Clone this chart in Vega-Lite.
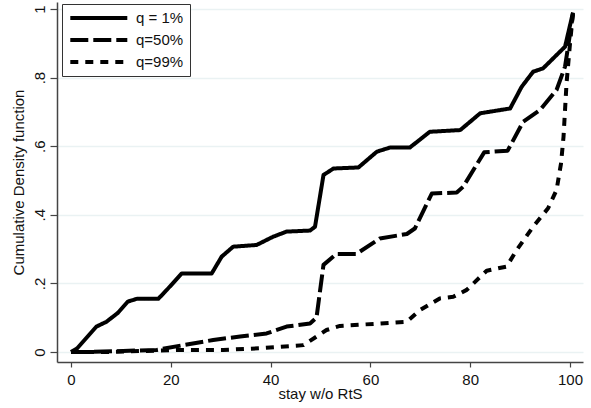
{
  "$schema": "https://vega.github.io/schema/vega-lite/v6.json",
  "width": 526,
  "height": 360,
  "autosize": "none",
  "padding": {"left": 57, "top": 2, "right": 8, "bottom": 46},
  "background": "white",
  "config": {
    "view": {"stroke": null},
    "font": "Liberation Sans",
    "axis": {"labelFont": "Liberation Sans", "titleFont": "Liberation Sans", "labelColor": "#111", "titleColor": "#111", "titleFontWeight": "normal", "labelFontSize": 15, "titleFontSize": 15, "domainColor": "#444", "tickColor": "#444", "domainWidth": 1.5, "tickWidth": 1.2}
  },
  "data": {"values": [
    {"x": 0, "y": 0, "q": "q = 1%"},
    {"x": 1.2, "y": 0.01, "q": "q = 1%"},
    {"x": 5.1, "y": 0.074, "q": "q = 1%"},
    {"x": 7.1, "y": 0.088, "q": "q = 1%"},
    {"x": 9.4, "y": 0.114, "q": "q = 1%"},
    {"x": 11.4, "y": 0.147, "q": "q = 1%"},
    {"x": 13.2, "y": 0.155, "q": "q = 1%"},
    {"x": 17.5, "y": 0.155, "q": "q = 1%"},
    {"x": 19.2, "y": 0.181, "q": "q = 1%"},
    {"x": 22.2, "y": 0.229, "q": "q = 1%"},
    {"x": 28.2, "y": 0.229, "q": "q = 1%"},
    {"x": 30.2, "y": 0.278, "q": "q = 1%"},
    {"x": 32.5, "y": 0.307, "q": "q = 1%"},
    {"x": 37.2, "y": 0.312, "q": "q = 1%"},
    {"x": 40.5, "y": 0.336, "q": "q = 1%"},
    {"x": 43.2, "y": 0.351, "q": "q = 1%"},
    {"x": 47.9, "y": 0.354, "q": "q = 1%"},
    {"x": 48.9, "y": 0.365, "q": "q = 1%"},
    {"x": 50.6, "y": 0.516, "q": "q = 1%"},
    {"x": 52.6, "y": 0.535, "q": "q = 1%"},
    {"x": 57.6, "y": 0.538, "q": "q = 1%"},
    {"x": 61.3, "y": 0.584, "q": "q = 1%"},
    {"x": 63.9, "y": 0.596, "q": "q = 1%"},
    {"x": 67.9, "y": 0.596, "q": "q = 1%"},
    {"x": 71.9, "y": 0.642, "q": "q = 1%"},
    {"x": 78.0, "y": 0.647, "q": "q = 1%"},
    {"x": 82.0, "y": 0.696, "q": "q = 1%"},
    {"x": 88.0, "y": 0.71, "q": "q = 1%"},
    {"x": 90.3, "y": 0.773, "q": "q = 1%"},
    {"x": 92.6, "y": 0.817, "q": "q = 1%"},
    {"x": 94.6, "y": 0.827, "q": "q = 1%"},
    {"x": 99.0, "y": 0.89, "q": "q = 1%"},
    {"x": 100.6, "y": 0.99, "q": "q = 1%"},
    {"x": 0, "y": 0, "q": "q=50%"},
    {"x": 3.8, "y": 0.0, "q": "q=50%"},
    {"x": 17.2, "y": 0.006, "q": "q=50%"},
    {"x": 22.5, "y": 0.02, "q": "q=50%"},
    {"x": 28.5, "y": 0.035, "q": "q=50%"},
    {"x": 33.9, "y": 0.045, "q": "q=50%"},
    {"x": 39.2, "y": 0.054, "q": "q=50%"},
    {"x": 43.2, "y": 0.074, "q": "q=50%"},
    {"x": 47.9, "y": 0.083, "q": "q=50%"},
    {"x": 49.2, "y": 0.1, "q": "q=50%"},
    {"x": 50.6, "y": 0.254, "q": "q=50%"},
    {"x": 53.2, "y": 0.286, "q": "q=50%"},
    {"x": 57.2, "y": 0.286, "q": "q=50%"},
    {"x": 61.9, "y": 0.331, "q": "q=50%"},
    {"x": 67.3, "y": 0.344, "q": "q=50%"},
    {"x": 68.9, "y": 0.36, "q": "q=50%"},
    {"x": 72.3, "y": 0.462, "q": "q=50%"},
    {"x": 77.3, "y": 0.465, "q": "q=50%"},
    {"x": 78.6, "y": 0.482, "q": "q=50%"},
    {"x": 82.8, "y": 0.582, "q": "q=50%"},
    {"x": 87.5, "y": 0.587, "q": "q=50%"},
    {"x": 90.6, "y": 0.671, "q": "q=50%"},
    {"x": 94.0, "y": 0.706, "q": "q=50%"},
    {"x": 97.3, "y": 0.764, "q": "q=50%"},
    {"x": 99.0, "y": 0.832, "q": "q=50%"},
    {"x": 100.6, "y": 0.985, "q": "q=50%"},
    {"x": 0, "y": 0, "q": "q=99%"},
    {"x": 7.1, "y": 0.0, "q": "q=99%"},
    {"x": 22.5, "y": 0.006, "q": "q=99%"},
    {"x": 30.5, "y": 0.006, "q": "q=99%"},
    {"x": 37.9, "y": 0.011, "q": "q=99%"},
    {"x": 46.6, "y": 0.02, "q": "q=99%"},
    {"x": 49.2, "y": 0.045, "q": "q=99%"},
    {"x": 51.2, "y": 0.064, "q": "q=99%"},
    {"x": 53.9, "y": 0.076, "q": "q=99%"},
    {"x": 61.9, "y": 0.083, "q": "q=99%"},
    {"x": 67.3, "y": 0.088, "q": "q=99%"},
    {"x": 69.9, "y": 0.122, "q": "q=99%"},
    {"x": 73.9, "y": 0.156, "q": "q=99%"},
    {"x": 76.6, "y": 0.161, "q": "q=99%"},
    {"x": 79.3, "y": 0.181, "q": "q=99%"},
    {"x": 83.3, "y": 0.237, "q": "q=99%"},
    {"x": 87.3, "y": 0.249, "q": "q=99%"},
    {"x": 89.3, "y": 0.297, "q": "q=99%"},
    {"x": 92.6, "y": 0.365, "q": "q=99%"},
    {"x": 95.6, "y": 0.419, "q": "q=99%"},
    {"x": 97.3, "y": 0.472, "q": "q=99%"},
    {"x": 98.2, "y": 0.55, "q": "q=99%"},
    {"x": 98.7, "y": 0.628, "q": "q=99%"},
    {"x": 99.3, "y": 0.783, "q": "q=99%"},
    {"x": 100.0, "y": 0.9, "q": "q=99%"},
    {"x": 100.6, "y": 0.99, "q": "q=99%"}
  ]},
  "mark": {"type": "line", "color": "black", "strokeWidth": 4, "strokeCap": "butt", "strokeJoin": "round"},
  "encoding": {
    "x": {"field": "x", "type": "quantitative", "title": "stay w/o RtS",
      "scale": {"domain": [-2.8, 102.6], "nice": false, "zero": false},
      "axis": {"values": [0, 20, 40, 60, 80, 100], "grid": false, "tickSize": 5, "labelPadding": 5, "labelFlush": false, "titleY": 36, "titleBaseline": "alphabetic"}},
    "y": {"field": "y", "type": "quantitative", "title": "Cumulative Density function",
      "scale": {"domain": [-0.0292, 1.0204], "nice": false, "zero": false},
      "axis": {"values": [0, 0.2, 0.4, 0.6, 0.8, 1], "grid": true, "gridColor": "#eaf2f3", "gridWidth": 1.5, "tickSize": 7, "labelAngle": -90, "labelAlign": "center", "labelBaseline": "middle", "labelPadding": 11, "labelFlush": false,
        "labelExpr": "datum.value == 0 ? '0' : datum.value == 1 ? '1' : replace(format(datum.value, '.1f'), '0.', '.')", "titleX": -34, "titleBaseline": "alphabetic"}},
    "strokeDash": {"field": "q", "type": "nominal",
      "scale": {"domain": ["q = 1%", "q=50%", "q=99%"], "range": [[1, 0], [18, 5], [8, 7]]},
      "legend": {"title": null, "orient": "none", "legendX": 5, "legendY": 2, "symbolType": "M-1,0H9", "symbolSize": 130, "symbolStrokeWidth": 4, "symbolStrokeColor": "black", "labelFontSize": 15, "labelFont": "Liberation Sans", "labelColor": "#111", "fillColor": "white", "strokeColor": "#333", "padding": 6, "rowPadding": 6, "labelOffset": 52}
    }
  }
}
